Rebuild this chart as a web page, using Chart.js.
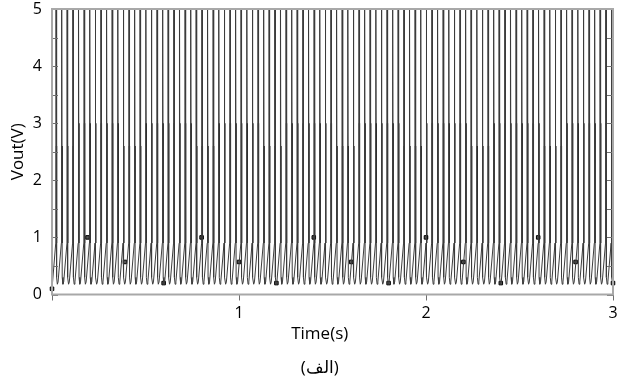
<!DOCTYPE html>
<html>
<head>
<meta charset="utf-8">
<script src="https://cdn.jsdelivr.net/npm/chart.js@4.4.0/dist/chart.umd.min.js"></script>
<style>
  html, body { margin: 0; padding: 0; background: #fff; }
</style>
</head>
<body>
<canvas id="myChart" width="618" height="383"></canvas>
<script>
// tick labels
const xTickValues = [0, 1, 2, 3];
const xTickLabels = ['', '1', '2', '3'];
const yTickLabels = ['0', '1', '2', '3', '4', '5'];

// spike train: first spike and spacing between spikes (s)
const firstSpike = 0.02;
const spikeSpacing = 0.0300;
const spikeCount = 100;

// one cycle after each spike: time offset (s) and voltage (V)
const cycleOffsets = [0, 0.0008, 0.0026, 0.0046, 0.0085, 0.0125];
const cycleVolts = [0.9, 5.6, 5.6, 0.3, 0.18, 0.22];
const traceStart = 0.1;

// height of the second (inner) stroke of each spike (V)
const bandPeaks = [
    2.6, 2.6, 2.6, 2.6, 3.0, 3.0, 3.0, 3.0, 3.0, 3.0, 3.0, 3.0, 2.6, 2.6, 2.6, 2.6, 3.0, 3.0, 3.0, 3.0,
    3.0, 3.0, 3.0, 3.0, 3.0, 2.6, 2.6, 2.6, 2.6, 3.0, 3.0, 3.0, 3.0, 3.0, 3.0, 3.0, 3.0, 2.6, 2.6, 2.6,
    2.6, 3.0, 3.0, 3.0, 3.0, 3.0, 3.0, 3.0, 3.0, 3.0, 2.6, 2.6, 2.6, 2.6, 3.0, 3.0, 3.0, 3.0, 3.0, 3.0,
    3.0, 3.0, 2.6, 2.6, 2.6, 2.6, 3.0, 3.0, 3.0, 3.0, 3.0, 3.0, 3.0, 3.0, 2.6, 2.6, 2.6, 2.6, 3.0, 3.0,
    3.0, 3.0, 3.0, 3.0, 3.0, 3.0, 3.0, 2.6, 2.6, 2.6, 2.6, 3.0, 3.0, 3.0, 3.0, 3.0, 3.0, 3.0, 3.0, 2.6
];
const bandBase = 0.9;
const bandOffset = 0.004;

// square markers
const markerTimes = [0, 0.19, 0.39, 0.597, 0.8, 1.0, 1.2, 1.4, 1.6, 1.8, 2.0, 2.2, 2.4, 2.6, 2.8, 3.0];
const markerVolts = [0.1, 1.0, 0.57, 0.2, 1.0, 0.57, 0.2, 1.0, 0.57, 0.2, 1.0, 0.57, 0.2, 1.0, 0.57, 0.2];

function buildTrace() {
    const pts = [{ x: 0, y: traceStart }];
    for (let i = 0; i < spikeCount; i++) {
        const t = firstSpike + i * spikeSpacing;
        cycleOffsets.forEach((dt, k) => pts.push({ x: t + dt, y: cycleVolts[k] }));
    }
    return pts;
}

function buildBand() {
    const pts = [];
    bandPeaks.forEach((peak, i) => {
        const t = firstSpike + i * spikeSpacing + bandOffset;
        pts.push({ x: t, y: bandBase }, { x: t, y: peak }, { x: t, y: null });
    });
    return pts;
}

const markers = markerTimes.map((t, i) => ({ x: t, y: markerVolts[i] }));

// box round the plot and small inward ticks on both vertical sides
const framePlugin = {
    id: 'frame',
    afterDatasetsDraw(chart) {
        const { ctx, chartArea } = chart;
        const yScale = chart.scales.y;
        ctx.save();
        ctx.strokeStyle = '#707070';
        ctx.lineWidth = 1;
        yScale.ticks.forEach(tick => {
            const py = Math.round(yScale.getPixelForValue(tick.value)) + 0.5;
            ctx.beginPath();
            ctx.moveTo(chartArea.left, py);
            ctx.lineTo(chartArea.left + 6, py);
            ctx.moveTo(chartArea.right - 6, py);
            ctx.lineTo(chartArea.right, py);
            ctx.stroke();
        });
        ctx.strokeStyle = '#a8a8a8';
        ctx.lineWidth = 2;
        ctx.strokeRect(chartArea.left, chartArea.top, chartArea.right - chartArea.left, chartArea.bottom - chartArea.top);
        ctx.restore();
    }
};

const fontFamily = "'Open Sans', 'Liberation Sans', sans-serif";
// trailing en spaces nudge the centred captions a little to the left, as in the original
const nudge = '\u2002\u2002\u2002';

const ctx = document.getElementById('myChart').getContext('2d');
new Chart(ctx, {
    type: 'line',
    data: {
        datasets: [
            {
                data: buildTrace(),
                borderColor: '#3c3c3c',
                borderWidth: 1,
                pointRadius: 0,
                tension: 0
            },
            {
                data: buildBand(),
                borderColor: '#000',
                borderWidth: 1.4,
                pointRadius: 0,
                spanGaps: false,
                tension: 0
            },
            {
                data: markers,
                showLine: false,
                pointStyle: 'rect',
                pointRadius: 2.5,
                pointBackgroundColor: '#555',
                pointBorderColor: '#000',
                pointBorderWidth: 1,
                clip: 4
            }
        ]
    },
    options: {
        responsive: false,
        animation: false,
        devicePixelRatio: 1,
        layout: { padding: { top: 9, right: 2, left: 0, bottom: 0 } },
        plugins: {
            legend: { display: false },
            tooltip: { enabled: false }
        },
        scales: {
            x: {
                type: 'linear',
                min: 0,
                max: 3,
                afterBuildTicks: scale => {
                    scale.ticks = xTickValues.map(v => ({ value: v }));
                },
                afterFit: scale => {
                    scale.height = 88.5;
                    scale.paddingLeft = 0;
                    scale.paddingRight = 0;
                },
                grid: { display: true, drawOnChartArea: false, drawTicks: true, tickLength: 6, color: '#707070' },
                border: { display: false },
                ticks: {
                    padding: 3,
                    color: '#000',
                    font: { family: fontFamily, size: 16 },
                    maxRotation: 0,
                    callback: (value, index) => xTickLabels[index]
                },
                title: {
                    display: true,
                    text: ['Time(s)' + nudge, '(الف)' + nudge],
                    color: '#000',
                    font: { family: fontFamily, size: 17, lineHeight: 2.0 },
                    padding: { top: 0, bottom: -2 }
                }
            },
            y: {
                min: 0,
                max: 5,
                afterFit: scale => {
                    scale.width = 52;
                    scale.paddingTop = 0;
                    scale.paddingBottom = 0;
                },
                grid: { display: false, drawTicks: false },
                border: { display: false },
                ticks: {
                    stepSize: 0.5,
                    padding: 10,
                    color: '#000',
                    autoSkip: false,
                    font: { family: fontFamily, size: 16 },
                    callback: value => Number.isInteger(value) ? yTickLabels[value] : ''
                },
                title: {
                    display: true,
                    text: 'Vout(V)',
                    color: '#000',
                    font: { family: fontFamily, size: 17 },
                    padding: { top: 8, bottom: 0 }
                }
            }
        }
    },
    plugins: [framePlugin]
});
</script>
</body>
</html>
